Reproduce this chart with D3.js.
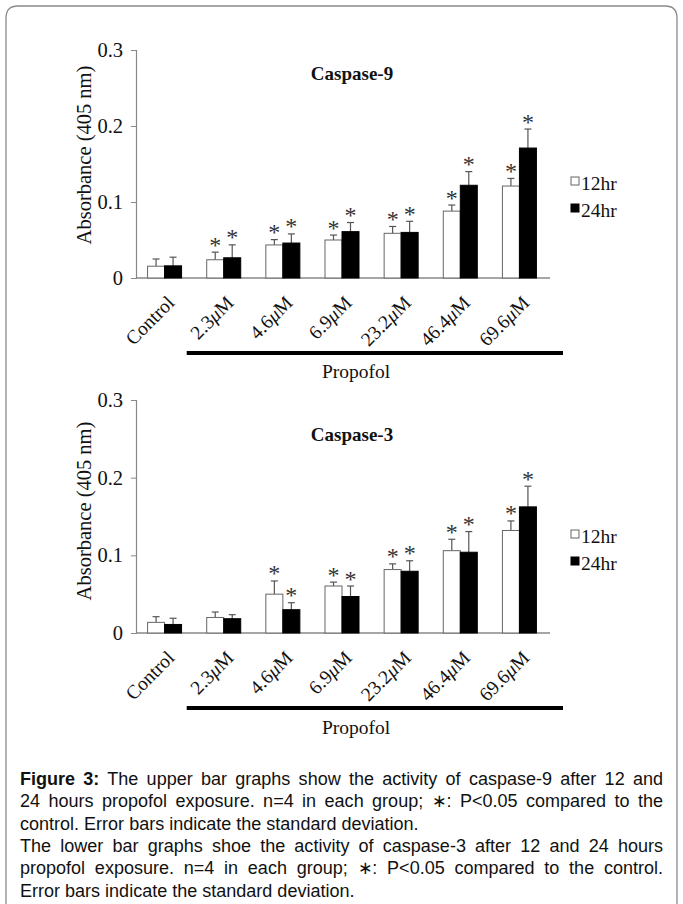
<!DOCTYPE html>
<html><head><meta charset="utf-8">
<script src="https://cdn.jsdelivr.net/npm/d3@7"></script>
<style>
body{margin:0;background:#fff;}
svg{display:block;}
</style></head><body>
<svg id="chart" width="683" height="904"></svg>
<script>
const categories = ["Control", "2.3μM", "4.6μM", "6.9μM", "23.2μM", "46.4μM", "69.6μM"];
const series = ["12hr", "24hr"];
const yTicks = [0, 0.1, 0.2, 0.3];

// Caspase-9 (upper)
const casp9_12 = [0.0155, 0.024, 0.0435, 0.050, 0.0588, 0.088, 0.121];
const casp9_12_sd = [0.0095, 0.010, 0.007, 0.0065, 0.009, 0.008, 0.010];
const casp9_24 = [0.016, 0.0266, 0.046, 0.061, 0.060, 0.122, 0.171];
const casp9_24_sd = [0.0114, 0.017, 0.012, 0.012, 0.0146, 0.018, 0.025];
const casp9_sig12 = [false, true, true, true, true, true, true];
const casp9_sig24 = [false, true, true, true, true, true, true];

// Caspase-3 (lower)
const casp3_12 = [0.0137, 0.020, 0.050, 0.0605, 0.0817, 0.106, 0.132];
const casp3_12_sd = [0.0073, 0.007, 0.017, 0.005, 0.0073, 0.0147, 0.0123];
const casp3_24 = [0.011, 0.0184, 0.030, 0.047, 0.0795, 0.104, 0.1624];
const casp3_24_sd = [0.008, 0.0052, 0.009, 0.0135, 0.0135, 0.0266, 0.0266];
const casp3_sig12 = [false, false, true, true, true, true, true];
const casp3_sig24 = [false, false, true, true, true, true, true];

const captionLines = [
  {bold: "Figure 3:", text: " The upper bar graphs show the activity of caspase-9 after 12 and", j: true},
  {bold: "", text: "24 hours propofol exposure. n=4 in each group; ∗: P<0.05 compared to the", j: true},
  {bold: "", text: "control. Error bars indicate the standard deviation.", j: false},
  {bold: "", text: "The lower bar graphs shoe the activity of caspase-3 after 12 and 24 hours", j: true},
  {bold: "", text: "propofol exposure. n=4 in each group; ∗: P<0.05 compared to the control.", j: true},
  {bold: "", text: "Error bars indicate the standard deviation.", j: false}
];

const svg = d3.select("#chart");
const serif = "'Liberation Serif','Times New Roman',serif";
const sans = "'Liberation Sans',Arial,sans-serif";

// frame
svg.append("path")
  .attr("d", "M6,920 L6,18 Q6,6 18,6 L665,6 Q677,6 677,18 L677,920")
  .attr("fill", "none").attr("stroke", "#8a8a8a").attr("stroke-width", 1.3);

function drawPanel(cfg) {
  const g = svg.append("g");
  const x0 = d3.scaleBand().domain(categories).range([135, 549]).paddingInner(0.425).paddingOuter(0.2125);
  const x1 = d3.scaleBand().domain(series).range([0, x0.bandwidth()]);
  const y = d3.scaleLinear().domain([0, 0.3]).range([cfg.y0, cfg.yTop]);

  const yAxis = g.append("g").attr("transform", "translate(136,0)")
    .call(d3.axisLeft(y).tickValues(yTicks).tickSize(5).tickFormat(d => d === 0 ? "0" : d3.format(".1f")(d)));
  yAxis.select(".domain").attr("stroke", "#888").attr("stroke-width", 1.2);
  yAxis.selectAll(".tick line").attr("stroke", "#888");
  yAxis.selectAll(".tick text").attr("font-family", serif).attr("font-size", 20.5).attr("fill", "#111").attr("x", -13);

  g.append("line").attr("x1", 136).attr("x2", 550).attr("y1", cfg.y0).attr("y2", cfg.y0)
    .attr("stroke", "#888").attr("stroke-width", 1.4);

  const data = [];
  categories.forEach((c, i) => {
    data.push({c, s: "12hr", v: cfg.v12[i], sd: cfg.sd12[i], sig: cfg.sig12[i]});
    data.push({c, s: "24hr", v: cfg.v24[i], sd: cfg.sd24[i], sig: cfg.sig24[i]});
  });

  data.forEach(d => {
    const cx = x0(d.c) + x1(d.s) + x1.bandwidth() / 2;
    g.append("line").attr("x1", cx).attr("x2", cx).attr("y1", y(d.v)).attr("y2", y(d.v + d.sd))
      .attr("stroke", "#555").attr("stroke-width", 1.2);
    g.append("line").attr("x1", cx - 3.5).attr("x2", cx + 3.5).attr("y1", y(d.v + d.sd)).attr("y2", y(d.v + d.sd))
      .attr("stroke", "#555").attr("stroke-width", 1.2);
    if (d.sig) {
      g.append("text").attr("x", cx).attr("y", y(d.v + d.sd) + 0.5)
        .attr("text-anchor", "middle").attr("font-family", serif).attr("font-size", 24).attr("fill", "#333")
        .text("*");
    }
  });

  g.selectAll("rect.bar").data(data).enter().append("rect")
    .attr("x", d => x0(d.c) + x1(d.s))
    .attr("y", d => y(d.v))
    .attr("width", x1.bandwidth())
    .attr("height", d => cfg.y0 - y(d.v))
    .attr("fill", d => d.s === "12hr" ? "#fff" : "#000")
    .attr("stroke", d => d.s === "12hr" ? "#666" : "#000")
    .attr("stroke-width", 1);

  categories.forEach(c => {
    const cx = x0(c) + x0.bandwidth() / 2;
    const t = g.append("text").attr("transform", `translate(${cx + 11},${cfg.y0 + 26}) rotate(-45)`)
      .attr("text-anchor", "end").attr("font-family", serif).attr("font-size", 19.5).attr("fill", "#111");
    const m = c.match(/^(.*)μ(.*)$/);
    if (m) {
      t.append("tspan").text(m[1]);
      t.append("tspan").attr("font-style", "italic").text("μ");
      t.append("tspan").text(m[2]);
    } else t.text(c);
  });

  g.append("text").attr("transform", `translate(91,${cfg.ylabY}) rotate(-90)`)
    .attr("text-anchor", "middle").attr("font-family", serif).attr("font-size", 20.5).attr("fill", "#111")
    .text("Absorbance (405 nm)");

  g.append("text").attr("x", 352).attr("y", cfg.titleY).attr("text-anchor", "middle")
    .attr("font-family", serif).attr("font-weight", "bold").attr("font-size", 19).attr("fill", "#111")
    .text(cfg.title);

  g.append("line").attr("x1", x0(categories[1]) - 20).attr("x2", 563).attr("y1", cfg.lineY).attr("y2", cfg.lineY)
    .attr("stroke", "#000").attr("stroke-width", 4);
  g.append("text").attr("x", 356).attr("y", cfg.propY).attr("text-anchor", "middle")
    .attr("font-family", serif).attr("font-size", 19.5).attr("fill", "#111").text("Propofol");

  series.forEach((s, i) => {
    const ly = cfg.legY + i * 27;
    g.append("rect").attr("x", 571).attr("y", ly - 13).attr("width", 8).attr("height", 8)
      .attr("fill", s === "12hr" ? "#fff" : "#000").attr("stroke", s === "12hr" ? "#666" : "#000").attr("stroke-width", 1);
    g.append("text").attr("x", 581).attr("y", ly).attr("font-family", serif).attr("font-size", 19.5).attr("fill", "#111").text(s);
  });
}

drawPanel({y0: 278, yTop: 50, v12: casp9_12, sd12: casp9_12_sd, v24: casp9_24, sd24: casp9_24_sd,
  sig12: casp9_sig12, sig24: casp9_sig24, title: "Caspase-9", titleY: 80, ylabY: 155,
  lineY: 353, propY: 378, legY: 190});
drawPanel({y0: 633, yTop: 400, v12: casp3_12, sd12: casp3_12_sd, v24: casp3_24, sd24: casp3_24_sd,
  sig12: casp3_sig12, sig24: casp3_sig24, title: "Caspase-3", titleY: 441, ylabY: 511,
  lineY: 708, propY: 734, legY: 543});

// caption: slightly widened sans text, justified lines
const capLeft = 20, capWidth = 643, capFont = 18.5, capTop = 785, capLH = 22.3;
const capG = svg.append("g");
const capTexts = captionLines.map((L, i) => {
  const t = capG.append("text").attr("font-family", sans).attr("font-size", capFont).attr("fill", "#111")
    .attr("x", 0).attr("y", 0);
  if (L.bold) t.append("tspan").attr("font-weight", "bold").text(L.bold);
  t.append("tspan").text(L.text);
  return t;
});
const k = 399 / capTexts[2].node().getComputedTextLength();
capTexts.forEach((t, i) => {
  const L = captionLines[i];
  t.attr("transform", `translate(${capLeft},${capTop + i * capLH}) scale(${k},1)`);
  if (L.j) {
    const w = t.node().getComputedTextLength();
    const full = L.bold + L.text;
    const nSp = (full.match(/ /g) || []).length;
    const extra = (capWidth / k - w) / nSp;
    t.style("word-spacing", extra + "px");
  }
});
</script>
</body></html>
